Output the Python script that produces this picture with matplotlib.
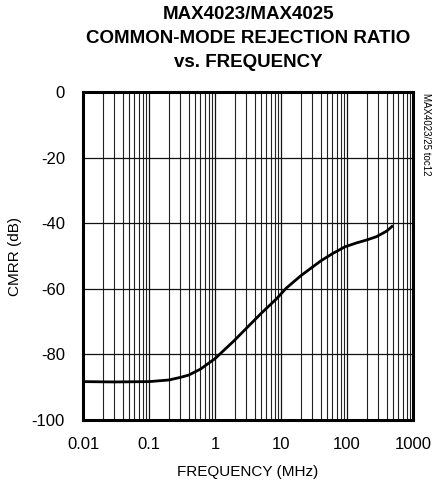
import numpy as np
import matplotlib
matplotlib.use("Agg")
import matplotlib.pyplot as plt
from matplotlib.ticker import LogLocator, FixedLocator

plt.rcParams['font.family'] = ['Liberation Sans', 'DejaVu Sans']
plt.rcParams['axes.unicode_minus'] = False

# CMRR vs frequency
freq_mhz = [0.01, 0.03, 0.1, 0.2, 0.3, 0.4, 0.6, 1.0, 2.0, 3.0, 5.0,
            8.6, 12, 20, 40, 60, 93, 140, 200, 280, 400, 480]
cmrr_db = [-88.3, -88.4, -88.3, -87.8, -87.0, -86.3, -84.5, -81.3, -75.6,
           -72.0, -67.5, -63.0, -59.8, -56.0, -51.5, -49.3, -47.2, -46.0,
           -45.1, -44.1, -42.4, -41.0]

xticks = [0.01, 0.1, 1, 10, 100, 1000]
xticklabels = ["0.01", "0.1", "1", "10", "100", "1000"]
yticks = [0, -20, -40, -60, -80, -100]

fig = plt.figure(figsize=(4.38, 4.83), dpi=100)
ax = fig.add_axes([83/438, 1 - 420/483, 330/438, 328/483])

ax.plot(freq_mhz, cmrr_db, color='black', lw=2.0, zorder=3)

ax.set_xscale('log')
ax.set_xlim(0.01, 1000)
ax.set_ylim(-100, 0)
ax.set_xticks(xticks)
ax.set_xticklabels(xticklabels)
ax.xaxis.set_minor_locator(LogLocator(base=10, subs=np.arange(2, 10), numticks=20))
ax.xaxis.set_minor_formatter(plt.NullFormatter())
ax.yaxis.set_major_locator(FixedLocator(yticks))

ax.grid(which='major', color='#111111', lw=0.9)
ax.grid(which='minor', axis='x', color='#222222', lw=0.8)
ax.tick_params(which='both', length=0, labelsize=12)
ax.tick_params(axis='x', pad=12)
ax.tick_params(axis='y', pad=13)

for s in ax.spines.values():
    s.set_linewidth(2.2)
    s.set_zorder(4)

ax.set_xlabel("FREQUENCY (MHz)", fontsize=11)
ax.set_ylabel("CMRR (dB)", fontsize=11)
ax.xaxis.set_label_coords(0.5, -0.137)
ax.yaxis.set_label_coords(-0.185, 0.5)

fig.text(248/438, 1 - 6/483, "MAX4023/MAX4025\nCOMMON-MODE REJECTION RATIO\nvs. FREQUENCY",
         ha='center', va='top', fontsize=13.5, fontweight='bold', linespacing=1.55)
fig.text(426/438, 1 - 93/483, "MAX4023/25 toc12", rotation=270, ha='center', va='top',
         fontsize=7)

fig.savefig("out.png", dpi=100)
